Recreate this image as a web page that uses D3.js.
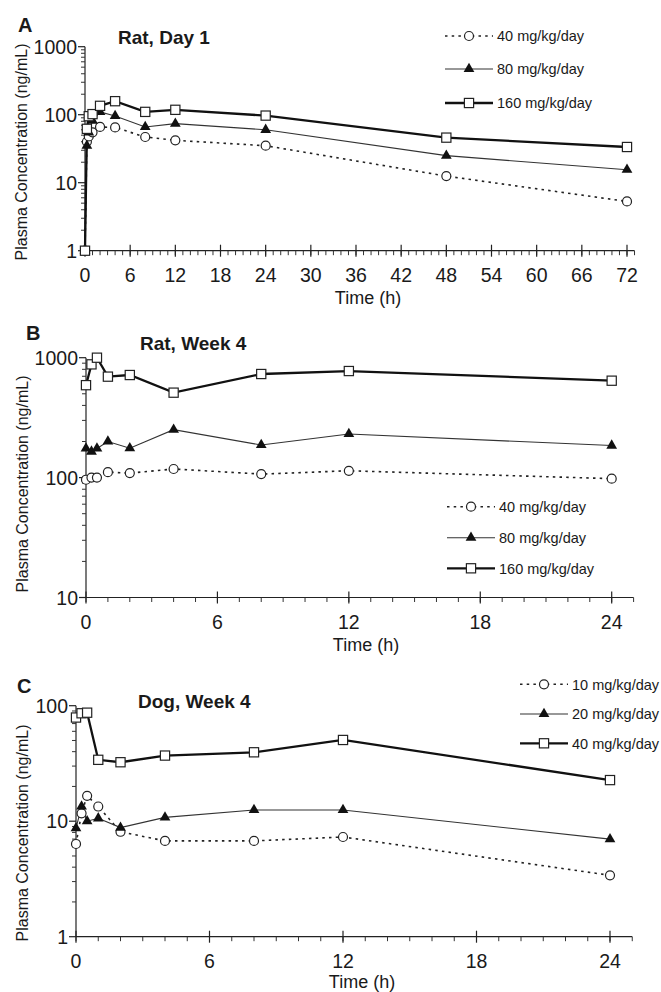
<!DOCTYPE html>
<html>
<head>
<meta charset="utf-8">
<script src="https://cdn.jsdelivr.net/npm/d3@7"></script>
<style>
body { margin: 0; background: #fff; }
text { font-family: "Liberation Sans", Arial, sans-serif; fill: #1a1a1a; }
</style>
</head>
<body>
<svg id="chart" width="661" height="992"></svg>
<script>
// values (ng/mL)
var ratDay1Times = [0, 0.25, 0.5, 1, 2, 4, 8, 12, 24, 48, 72];
var ratDay1Low = [1, 40, 48, 55, 66, 65, 47, 42, 35, 12.5, 5.3];
var ratDay1Mid = [1, 35, 55, 82, 110, 96, 66, 74, 60, 25, 15.5];
var ratDay1High = [1, 62, 95, 102, 135, 158, 110, 118, 97, 46, 33.5];

var ratWeek4Times = [0, 0.25, 0.5, 1, 2, 4, 8, 12, 24];
var ratWeek4Low = [96, 100, 100, 111, 109, 118, 107, 114, 98];
var ratWeek4Mid = [175, 165, 175, 200, 176, 251, 187, 231, 185];
var ratWeek4High = [590, 880, 1000, 695, 717, 511, 731, 774, 643];

var dogWeek4Times = [0, 0.25, 0.5, 1, 2, 4, 8, 12, 24];
var dogWeek4Low = [6.35, 11.7, 16.6, 13.4, 8.1, 6.75, 6.75, 7.3, 3.4];
var dogWeek4Mid = [8.7, 13.4, 10, 10.6, 8.8, 10.8, 12.5, 12.5, 7.0];
var dogWeek4High = [79, 86, 87, 34, 32.4, 37, 39.5, 50.5, 22.7];

var ratDoses = ["40 mg/kg/day", "80 mg/kg/day", "160 mg/kg/day"];
var dogDoses = ["10 mg/kg/day", "20 mg/kg/day", "40 mg/kg/day"];

var day1XTicks = [0, 6, 12, 18, 24, 30, 36, 42, 48, 54, 60, 66, 72];
var week4XTicks = [0, 6, 12, 18, 24];
var ratDay1YTicks = [1, 10, 100, 1000];
var ratWeek4YTicks = [10, 100, 1000];
var dogWeek4YTicks = [1, 10, 100];

var svg = d3.select("#chart");

// three dose styles: dotted/circle, thin/triangle, thick/square
var styles = [
  {stroke: "#222", width: 1.6, dash: "2.5,4.2", marker: "circle"},
  {stroke: "#333", width: 1.1, dash: null, marker: "triangle"},
  {stroke: "#111", width: 2.3, dash: null, marker: "square"}
];

function drawMarker(g, kind, cx, cy){
  if(kind == "circle"){
    g.append("circle").attr("cx", cx).attr("cy", cy).attr("r", 4.5)
     .attr("fill", "#fff").attr("stroke", "#222").attr("stroke-width", 1.2);
  } else if(kind == "triangle"){
    g.append("path").attr("d", d3.symbol().type(d3.symbolTriangle).size(50)())
     .attr("transform", "translate(" + cx + "," + cy + ")")
     .attr("fill", "#111");
  } else {
    g.append("rect").attr("x", cx - 4.6).attr("y", cy - 4.6)
     .attr("width", 9.2).attr("height", 9.2)
     .attr("fill", "#fff").attr("stroke", "#222").attr("stroke-width", 1.2);
  }
}

function drawPanel(p){
  var g = svg.append("g");

  var x = d3.scaleLinear().domain([0, p.xMax]).range(p.xRange);
  var y = d3.scaleLog().domain(p.yDomain).range(p.yRange);
  var x0 = p.xRange[0], yBase = p.yRange[0];

  // y axis (log), major ticks at decades, minor at 2..9
  var minor = [];
  for(var d = p.yDomain[0]; d < p.yDomain[1]; d *= 10){
    for(var k = 2; k < 10; k++) minor.push(d * k);
  }
  var yAxis = g.append("g").attr("transform", "translate(" + x0 + ",0)");
  yAxis.append("line").attr("y1", y(p.yDomain[0])).attr("y2", y(p.yDomain[1]))
       .attr("stroke", "#222").attr("stroke-width", 1.2);
  yAxis.selectAll(".ymin").data(minor).enter().append("line")
       .attr("x1", -4).attr("x2", 0)
       .attr("y1", function(d){ return y(d); }).attr("y2", function(d){ return y(d); })
       .attr("stroke", "#333").attr("stroke-width", 1);
  yAxis.selectAll(".ymaj").data(p.yTicks).enter().append("line")
       .attr("x1", -7).attr("x2", 0)
       .attr("y1", function(d){ return y(d); }).attr("y2", function(d){ return y(d); })
       .attr("stroke", "#222").attr("stroke-width", 1.2);
  yAxis.selectAll(".ylab").data(p.yTicks).enter().append("text")
       .attr("x", -8).attr("y", function(d){ return y(d); })
       .attr("dy", "0.36em").attr("text-anchor", "end")
       .style("font-size", "19.5px").text(function(d){ return d; });

  // x axis, major ticks crossing, minor every hour
  var minorX = d3.range(0, p.xMax + 1.01, 1);
  var xAxis = g.append("g").attr("transform", "translate(0," + yBase + ")");
  xAxis.append("line").attr("x1", x0).attr("x2", x(p.xMax + 1))
       .attr("stroke", "#222").attr("stroke-width", 1.2);
  xAxis.selectAll(".xmin").data(minorX).enter().append("line")
       .attr("x1", function(d){ return x(d); }).attr("x2", function(d){ return x(d); })
       .attr("y1", 0).attr("y2", 4.5)
       .attr("stroke", "#333").attr("stroke-width", 1);
  xAxis.selectAll(".xmaj").data(p.xTicks).enter().append("line")
       .attr("x1", function(d){ return x(d); }).attr("x2", function(d){ return x(d); })
       .attr("y1", -6).attr("y2", 6)
       .attr("stroke", "#222").attr("stroke-width", 1.2);
  xAxis.selectAll(".xlab").data(p.xTicks).enter().append("text")
       .attr("x", function(d){ return x(d); }).attr("y", 31.5)
       .attr("text-anchor", "middle").style("font-size", "19.5px")
       .text(function(d){ return d; });

  g.append("text").attr("x", p.timeX).attr("y", p.timeY)
   .attr("text-anchor", "middle").style("font-size", "18px").text("Time (h)");

  g.append("text")
   .attr("transform", "translate(" + p.yLabelX + "," + p.yLabelY + ") rotate(-90)")
   .attr("text-anchor", "middle").attr("dy", "0.35em")
   .style("font-size", "16px").text("Plasma Concentration (ng/mL)");

  g.append("text").attr("x", p.letterX).attr("y", p.letterY)
   .style("font-size", "20px").style("font-weight", "bold").text(p.letter);
  g.append("text").attr("x", p.titleX).attr("y", p.titleY)
   .style("font-size", "19px").style("font-weight", "bold").text(p.title);

  // data lines, then markers on top
  p.series.forEach(function(vals, i){
    var s = styles[i];
    var pts = p.times.map(function(t, j){ return [t, vals[j]]; });
    var line = d3.line()
                 .x(function(d){ return x(d[0]); })
                 .y(function(d){ return y(d[1]); });
    g.append("path").datum(pts)
     .attr("fill", "none").attr("stroke", s.stroke)
     .attr("stroke-width", s.width)
     .attr("stroke-dasharray", s.dash)
     .attr("d", line);
  });
  p.series.forEach(function(vals, i){
    p.times.forEach(function(t, j){
      drawMarker(g, styles[i].marker, x(t), y(vals[j]));
    });
  });

  // legend
  p.doses.forEach(function(label, i){
    var s = styles[i], ry = p.legendRows[i];
    g.append("line").attr("x1", p.legendX0).attr("x2", p.legendX1)
     .attr("y1", ry).attr("y2", ry)
     .attr("stroke", s.stroke).attr("stroke-width", s.width)
     .attr("stroke-dasharray", s.dash);
    drawMarker(g, s.marker, (p.legendX0 + p.legendX1) / 2, ry);
    g.append("text").attr("x", p.legendX1 + 4).attr("y", ry).attr("dy", "0.36em")
     .style("font-size", "14.5px").text(label);
  });
}

drawPanel({
  letter: "A", letterX: 18, letterY: 32,
  title: "Rat, Day 1", titleX: 118, titleY: 44,
  times: ratDay1Times, series: [ratDay1Low, ratDay1Mid, ratDay1High], doses: ratDoses,
  xMax: 72, xRange: [85, 627], xTicks: day1XTicks,
  yDomain: [1, 1000], yRange: [250.7, 46.7], yTicks: ratDay1YTicks,
  timeX: 368, timeY: 304, yLabelX: 21, yLabelY: 152,
  legendX0: 445, legendX1: 493, legendRows: [36, 69, 103]
});

drawPanel({
  letter: "B", letterX: 26, letterY: 340,
  title: "Rat, Week 4", titleX: 140, titleY: 350,
  times: ratWeek4Times, series: [ratWeek4Low, ratWeek4Mid, ratWeek4High], doses: ratDoses,
  xMax: 24, xRange: [86, 611.7], xTicks: week4XTicks,
  yDomain: [10, 1000], yRange: [597.5, 357.7], yTicks: ratWeek4YTicks,
  timeX: 366, timeY: 651, yLabelX: 22, yLabelY: 484,
  legendX0: 447, legendX1: 495, legendRows: [506.7, 537.7, 568.3]
});

drawPanel({
  letter: "C", letterX: 17, letterY: 693,
  title: "Dog, Week 4", titleX: 138, titleY: 708,
  times: dogWeek4Times, series: [dogWeek4Low, dogWeek4Mid, dogWeek4High], doses: dogDoses,
  xMax: 24, xRange: [76, 610], xTicks: week4XTicks,
  yDomain: [1, 100], yRange: [936.7, 705.7], yTicks: dogWeek4YTicks,
  timeX: 362, timeY: 988, yLabelX: 22, yLabelY: 833,
  legendX0: 520, legendX1: 568, legendRows: [684.3, 714, 743.3]
});
</script>
</body>
</html>
